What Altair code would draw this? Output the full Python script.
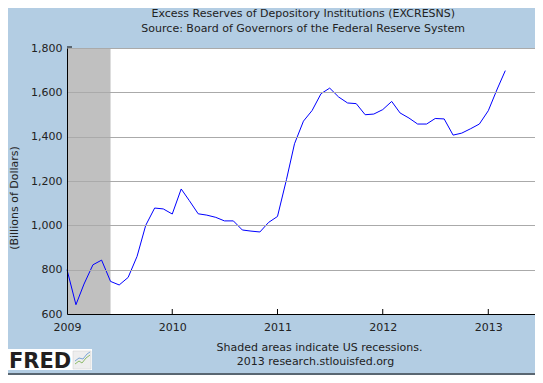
import altair as alt
import pandas as pd

# ---- data ----
months = pd.date_range("2009-01-01", periods=51, freq="MS").strftime("%Y-%m-%dT00:00:00").tolist()
excess_reserves = [
    800, 642, 735, 822, 843, 747, 731, 765, 860, 1000, 1078, 1074,
    1051, 1164, 1112, 1052, 1046, 1036, 1020, 1020, 979, 974, 970, 1013,
    1040, 1206, 1368, 1470, 1518, 1594, 1619, 1579, 1552, 1549, 1499, 1502,
    1522, 1559, 1507, 1484, 1457, 1457, 1482, 1480, 1407, 1416, 1436, 1457,
    1517, 1615, 1698,
]
recession_start = ["2009-01-01T00:00:00"]
recession_end = ["2009-06-01T00:00:00"]
tick_years = [2009, 2010, 2011, 2012, 2013]
inner_tick_dates = ["2010-01-01T00:00:00", "2011-01-01T00:00:00",
                    "2012-01-01T00:00:00", "2013-01-01T00:00:00"]
y_ticks = [600, 800, 1000, 1200, 1400, 1600, 1800]
title_lines = ["Excess Reserves of Depository Institutions (EXCRESNS)",
               "Source: Board of Governors of the Federal Reserve System"]
y_title = "(Billions of Dollars)"
footer_lines = ["Shaded areas indicate US recessions.",
                "2013 research.stlouisfed.org"]
logo_text = "FRED"

# ---- styling ----
BG = "#B3CDE3"
FONT = "DejaVu Sans"
TXT = "#222222"
W, H = 468, 266

series = pd.DataFrame({"date": months, "value": excess_reserves})
rec = pd.DataFrame({"start": recession_start, "end": recession_end})
ticks = pd.DataFrame({"date": inner_tick_dates})
one = alt.Data(values=[{}])

x_scale = alt.Scale(domain=[alt.DateTime(year=2009, month=1, date=1),
                            alt.DateTime(year=2013, month=6, date=12)], nice=False)
x_axis = alt.Axis(values=[alt.DateTime(year=y, month=1, date=1) for y in tick_years],
                  format="%Y", grid=False, tickSize=0, labelPadding=7,
                  domainColor="black", domainWidth=1, labelFont=FONT,
                  labelFontSize=11, labelColor=TXT, title=None, zindex=1,
                  labelFlush=False, labelOverlap=False)
y_scale = alt.Scale(domain=[600, 1800], nice=False, zero=False)
y_axis = alt.Axis(values=y_ticks, format=",d", grid=True, gridColor="#AAAAAA",
                  gridWidth=1, tickSize=0, labelPadding=5, domainColor="black",
                  domainWidth=1, labelFont=FONT, labelFontSize=11, labelColor=TXT,
                  title=None, zindex=1)

recession = alt.Chart(rec).mark_rect(color="#C0C0C0").encode(
    x=alt.X("start:T", scale=x_scale, axis=x_axis),
    x2="end:T",
    y=alt.value(0), y2=alt.value(H),
)

top_tick = alt.Chart(one).mark_rule(color="black", strokeWidth=1).encode(
    x=alt.value(0), x2=alt.value(5), y=alt.value(-1)
)

line = alt.Chart(series).mark_line(color="#0000FF", strokeWidth=1).encode(
    x=alt.X("date:T", scale=x_scale, axis=x_axis),
    y=alt.Y("value:Q", scale=y_scale, axis=y_axis),
)

xticks = alt.Chart(ticks).mark_rule(color="black", strokeWidth=1).encode(
    x=alt.X("date:T", scale=x_scale, axis=x_axis),
    y=alt.value(H - 5), y2=alt.value(H),
)

def txt(s, x, y, **kw):
    opts = dict(font=FONT, fontSize=11, color=TXT, align="center", baseline="middle")
    opts.update(kw)
    return alt.Chart(one).mark_text(**opts).encode(
        x=alt.value(x), y=alt.value(y), text=alt.value(s))

t1 = txt(title_lines[0], 236.3, -34.5)
t2 = txt(title_lines[1], 236.2, -19.5)
yt = txt(y_title, -52, 150, angle=270)
f1 = txt(footer_lines[0], 252.5, 300.3)
f2 = txt(footer_lines[1], 248.5, 313.7)

logo_box = alt.Chart(one).mark_rect(color="white").encode(
    x=alt.value(-59), x2=alt.value(25), y=alt.value(301), y2=alt.value(322))
logo_txt = alt.Chart(one).mark_text(font=FONT, fontSize=21, fontWeight="bold",
                                    color="#231F20", align="left",
                                    baseline="alphabetic").encode(
    x=alt.value(-58), y=alt.value(320), text=alt.value(logo_text))
icon_box = alt.Chart(one).mark_rect(color="#EEEEEE", stroke="#CCCCCC",
                                    strokeWidth=0.5).encode(
    x=alt.value(6), x2=alt.value(24), y=alt.value(303), y2=alt.value(321))

def seg(x1, y1, x2, y2, c):
    return alt.Chart(one).mark_rule(color=c, strokeWidth=1).encode(
        x=alt.value(x1), y=alt.value(y1), x2=alt.value(x2), y2=alt.value(y2))

icon = [
    seg(8, 316, 12, 313, "#8DBB6A"), seg(12, 313, 15, 315, "#8DBB6A"),
    seg(15, 315, 19, 310, "#8DBB6A"), seg(19, 310, 23, 307, "#8DBB6A"),
    seg(8, 313, 12, 310, "#7BA7D6"), seg(12, 310, 16, 311, "#7BA7D6"),
    seg(16, 311, 20, 306, "#7BA7D6"), seg(20, 306, 23, 304, "#7BA7D6"),
]

bottom_rule = alt.Chart(one).mark_rule(color="black", strokeWidth=1).encode(
    x=alt.value(-59), x2=alt.value(W), y=alt.value(326))

chart = alt.layer(
    recession, top_tick, line, xticks, t1, t2, yt, f1, f2,
    logo_box, logo_txt, icon_box, *icon, bottom_rule,
).properties(
    width=W, height=H,
    autosize=alt.AutoSizeParams(type="none"),
    padding={"left": 59, "top": 40, "right": 0, "bottom": 61},
).configure(background=BG).configure_view(fill="white", strokeWidth=0)

chart.save("out.html", embed_options={"renderer": "svg", "actions": False})
